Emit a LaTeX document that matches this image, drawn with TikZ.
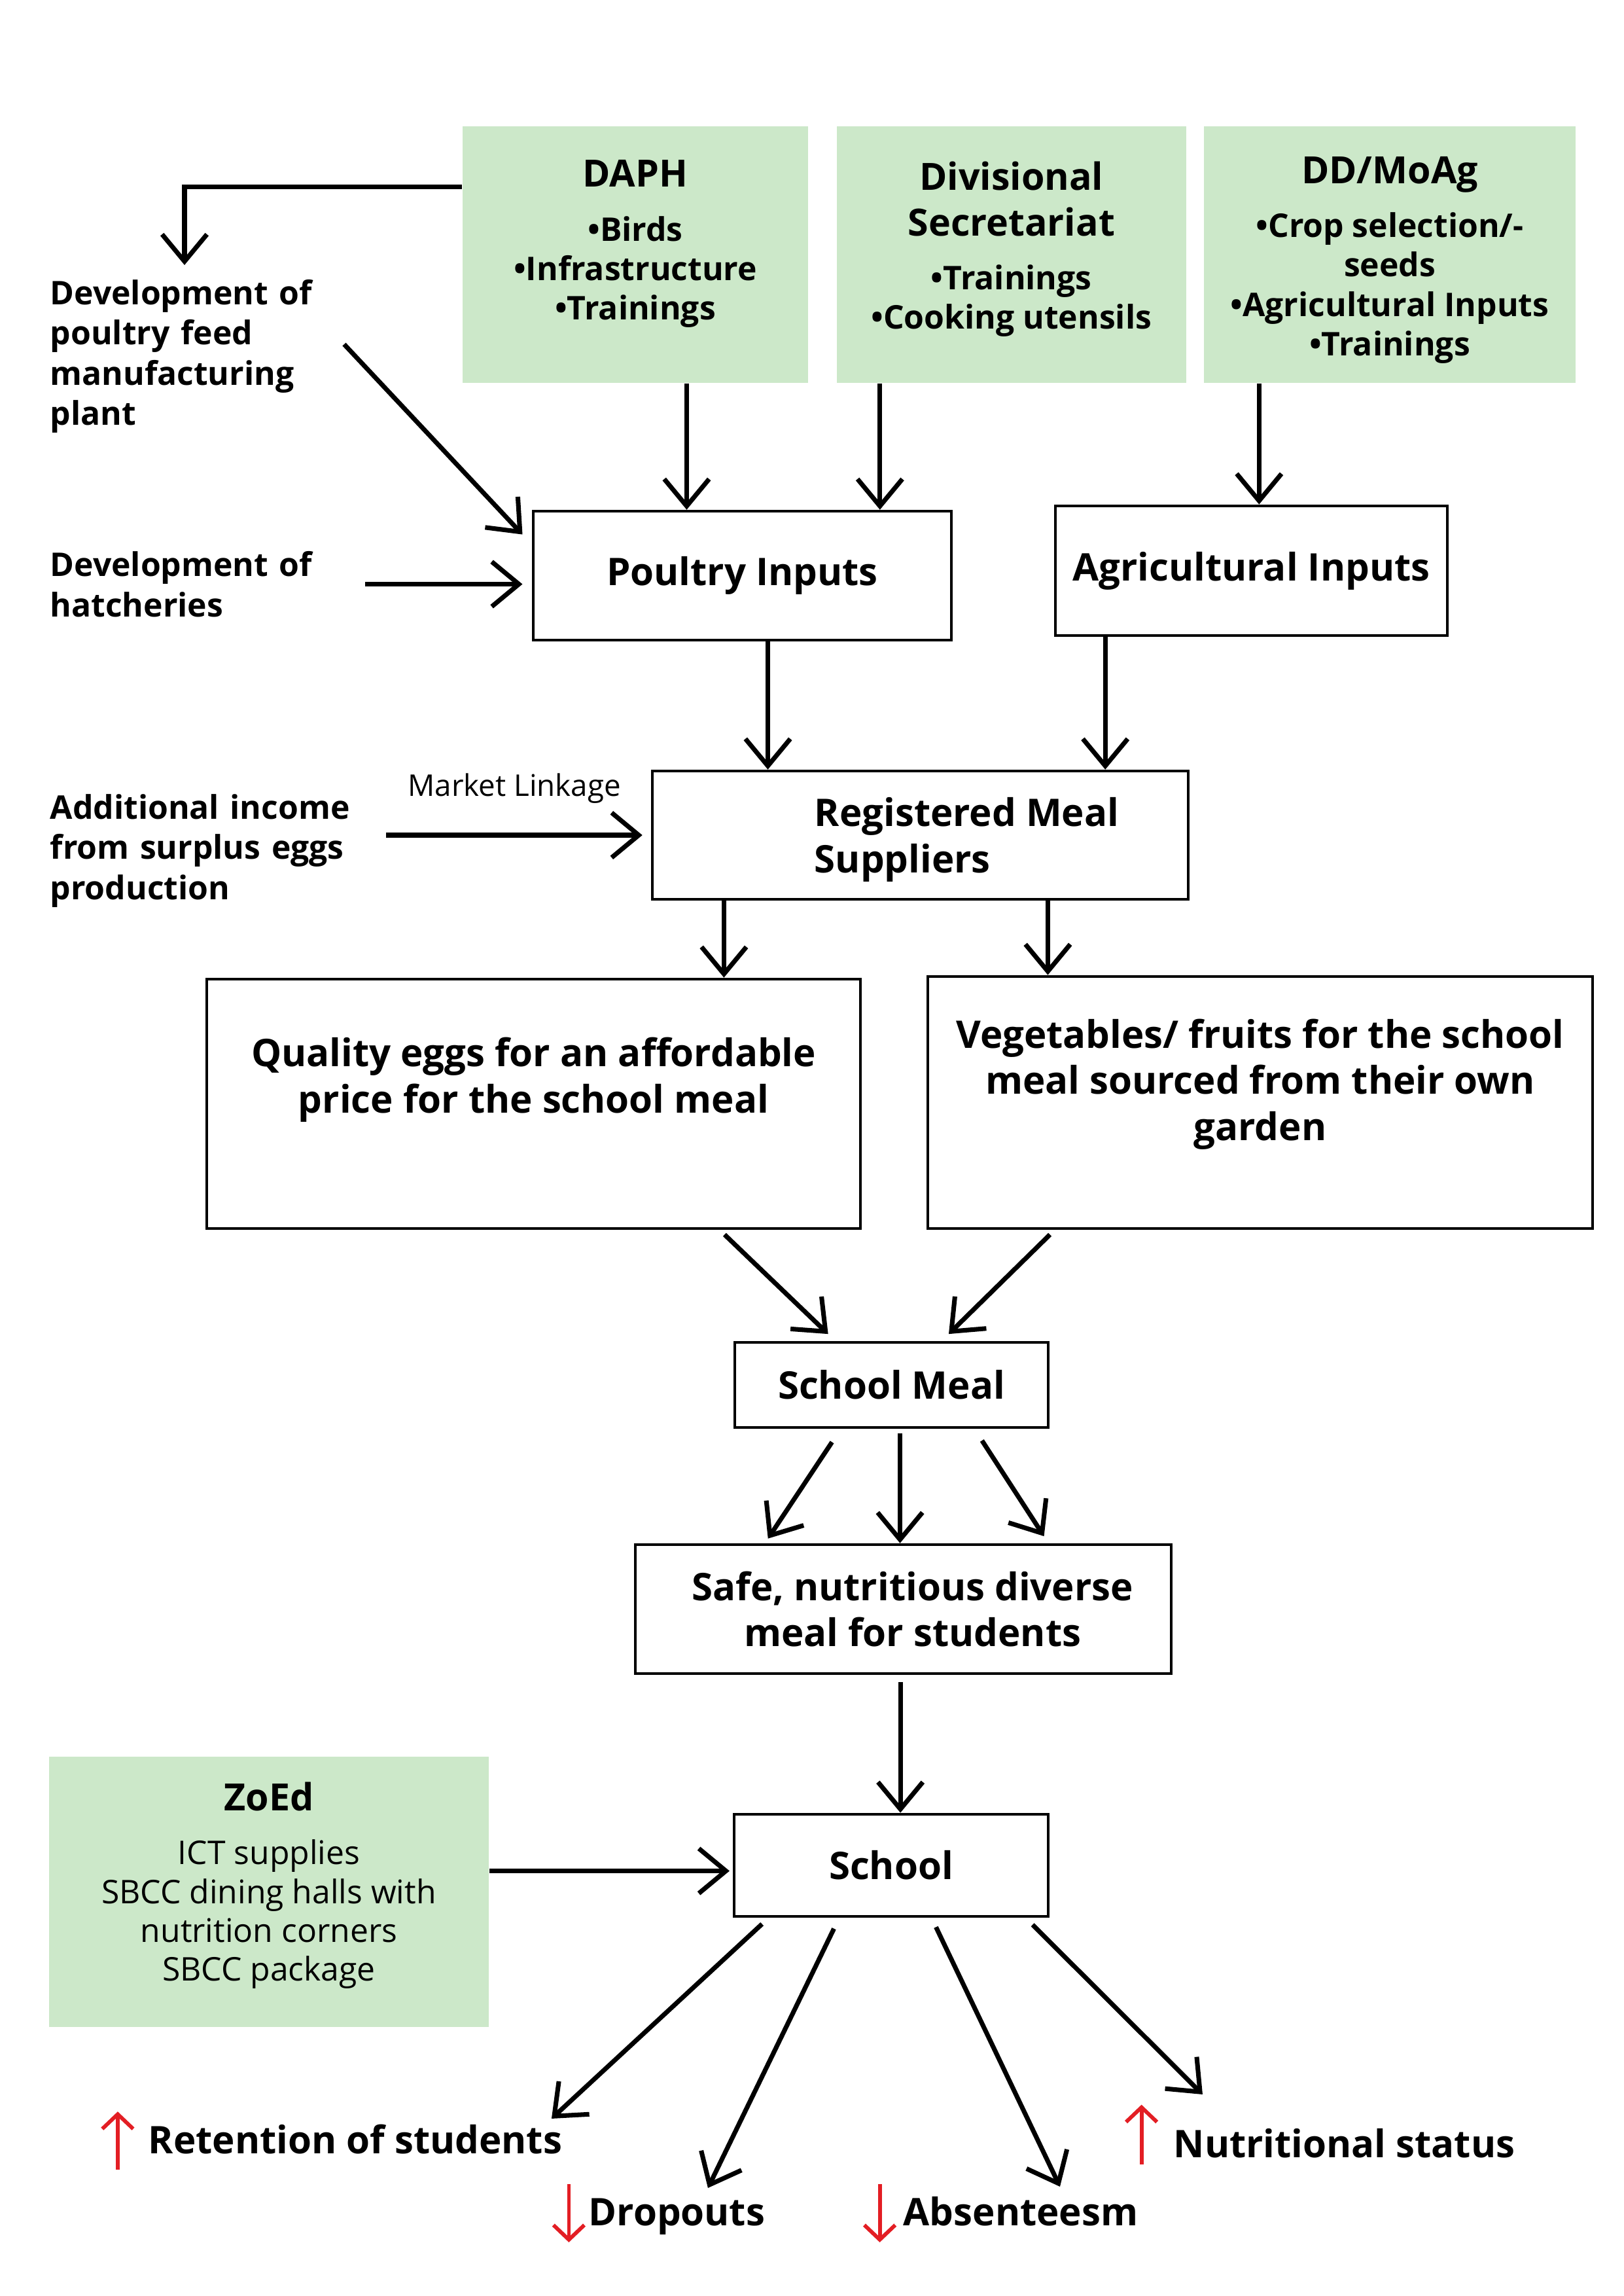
\documentclass[tikz,border=0pt]{standalone}
\usepackage{fontspec}
\setmainfont{Open Sans}
\usetikzlibrary{positioning,arrows.meta,calc}

\definecolor{srcgreen}{RGB}{204,232,201}
\definecolor{trendred}{RGB}{227,30,36}
\newcommand{\srchead}[1]{{\fontsize{13.8}{16.5}\selectfont #1}}

\begin{document}
\begin{tikzpicture}[
    box/.style={rectangle, draw, line width=1.1pt, align=center, font=\bfseries\fontsize{14}{17}\selectfont},
    boxtext/.style={inner sep=0pt, align=center, font=\bfseries\fontsize{14}{17}\selectfont},
    src/.style={rectangle, fill=srcgreen, minimum height=3.32cm},
    srctext/.style={inner sep=0pt, align=center, font=\bfseries\fontsize{12}{14.5}\selectfont},
    side/.style={inner sep=0pt, anchor=west, align=left, text width=4cm, font=\bfseries\fontsize{12}{14.8}\selectfont},
    result/.style={inner sep=0pt, anchor=base west, font=\bfseries\fontsize{14}{16}\selectfont},
    arrow/.style={-{Straight Barb[length=3.5mm, width=5.8mm]}, line width=1.7pt},
    trend/.style={-{Straight Barb[length=1.9mm, width=4mm]}, line width=1.4pt, trendred},
]
\useasboundingbox (0,0) rectangle (21,29.693);

% Source boxes (green)
\node[src, minimum width=4.47cm] (daph) at (8.219,26.4) {};
\node[src, minimum width=4.52cm, right=0.356cm of daph] (div) {};
\node[src, minimum width=4.8cm, right=0.22cm of div] (dd) {};

\node[srctext, below=0.44cm of daph.north] (daphtext) {\srchead{DAPH}\\[5.4pt] •Birds\\ •Infrastructure\\ •Trainings};
\node[srctext, below=0.46cm of div.north] (divtext) {\srchead{Divisional}\\[2.2pt] \srchead{Secretariat}\\[5.4pt] •Trainings\\ •Cooking utensils};
\node[srctext, below=0.39cm of dd.north] (ddtext) {\srchead{DD/MoAg}\\[5.4pt] •Crop selection/-\\ seeds\\ •Agricultural Inputs\\ •Trainings};

% Side inputs
\node[side] (feed) at (0.643,25.084) {Development of\\ poultry feed\\ manufacturing\\ plant};
\node[side] (hatch) at (0.643,22.138) {Development of\\ hatcheries};
\node[side] (income) at (0.643,18.692) {Additional income\\ from surplus eggs\\ production};

% Inputs
\node[box, minimum width=5.41cm, minimum height=1.667cm] (poultry) at (9.603,22.248) {Poultry Inputs};
\node[box, minimum width=5.07cm, minimum height=1.676cm] (agri) at (16.188,22.312) {Agricultural Inputs};

% Suppliers
\node[box, minimum width=6.932cm, minimum height=1.659cm] (reg) at (11.905,18.892) {};
\node[boxtext, align=left, right=2.11cm of reg.west, yshift=-0.06cm] (regtext) {Registered Meal\\ Suppliers};

% Products
\node[box, minimum width=8.456cm, minimum height=3.225cm] (eggs) at (6.903,15.418) {};
\node[boxtext, below=0.77cm of eggs.north] (eggstext) {Quality eggs for an affordable\\ price for the school meal};
\node[box, minimum width=8.6cm, minimum height=3.259cm] (veg) at (16.302,15.435) {};
\node[boxtext, below=0.56cm of veg.north] (vegtext) {Vegetables/ fruits for the school\\ meal sourced from their own\\ garden};

% Meal and school
\node[box, minimum width=4.054cm, minimum height=1.1cm] (meal) at (11.533,11.782) {School Meal};
\node[box, minimum width=6.932cm, minimum height=1.667cm] (safe) at (11.685,8.883) {};
\node[boxtext, xshift=0.12cm] (safetext) at (safe) {Safe, nutritious diverse\\ meal for students};
\node[box, minimum width=4.063cm, minimum height=1.32cm] (school) at (11.528,5.57) {School};

% ZoEd
\node[src, minimum width=5.688cm, minimum height=3.496cm] (zoed) at (3.479,5.227) {};
\node[srctext, font=\fontsize{12}{14.3}\selectfont, below=0.33cm of zoed.north] (zoedtext) {\srchead{\bfseries ZoEd}\\[5.5pt] ICT supplies\\ SBCC dining halls with\\ nutrition corners\\ SBCC package};

% Outcomes
\node[result] (ret) at (1.913,1.845) {Retention of students};
\node[result] (drop) at (7.609,0.914) {Dropouts};
\node[result] (abs) at (11.681,0.914) {Absenteesm};
\node[result] (nut) at (15.177,1.794) {Nutritional status};

\draw[trend] ([xshift=-0.39cm,yshift=-0.21cm]ret.base west) -- ++(0,0.75cm);
\draw[trend] ([xshift=-0.25cm,yshift=0.53cm]drop.base west) -- ++(0,-0.75cm);
\draw[trend] ([xshift=-0.3cm,yshift=0.53cm]abs.base west) -- ++(0,-0.75cm);
\draw[trend] ([xshift=-0.41cm,yshift=-0.09cm]nut.base west) -- ++(0,0.77cm);

% Free ends
\coordinate (feedtop) at (2.387,26.265);
\coordinate (feedout) at (4.452,25.24);
\coordinate (retin) at (7.135,2.294);
\coordinate (dropin) at (9.158,1.397);
\coordinate (absin) at (13.712,1.414);
\coordinate (nutin) at (15.557,2.607);

% Arrows
\draw[arrow] ([yshift=0.88cm]daph.west) -| (feedtop);
\draw[arrow] (feedout) -- ([xshift=-0.12cm,yshift=-0.32cm]poultry.north west);
\draw[arrow] ([xshift=0.07cm]hatch.east) -- ([xshift=-0.12cm]poultry.west |- hatch.east);
\draw[arrow] ([xshift=-0.72cm]poultry.north |- daph.south) -- ([xshift=-0.72cm]poultry.north);
\draw[arrow] ([xshift=1.78cm]poultry.north |- div.south) -- ([xshift=1.78cm]poultry.north);
\draw[arrow] ([xshift=0.1cm]agri.north |- dd.south) -- ([xshift=0.1cm]agri.north);

\draw[arrow] ([xshift=0.33cm]poultry.south) -- ([xshift=0.33cm]poultry.south |- reg.north);
\draw[arrow] ([xshift=-1.89cm]agri.south) -- ([xshift=-1.89cm]agri.south |- reg.north);
\draw[arrow] ([xshift=0.34cm]income.east |- reg.west) -- node[above=0.38cm, inner sep=0pt, font=\fontsize{11}{13}\selectfont] (mlink) {Market Linkage} ([xshift=-0.11cm]reg.west);

\draw[arrow] ([xshift=-2.54cm]reg.south) -- ([xshift=-2.54cm]reg.south |- eggs.north);
\draw[arrow] ([xshift=1.65cm]reg.south) -- ([xshift=1.65cm]reg.south |- veg.north);

\draw[arrow] ([xshift=2.47cm,yshift=-0.06cm]eggs.south) -- ([xshift=-0.82cm,yshift=0.09cm]meal.north);
\draw[arrow] ([xshift=-2.72cm,yshift=-0.06cm]veg.south) -- ([xshift=0.74cm,yshift=0.09cm]meal.north);

\draw[arrow] ([xshift=-0.77cm,yshift=-0.17cm]meal.south) -- ([xshift=-1.75cm,yshift=0.06cm]safe.north);
\draw[arrow] ([xshift=0.11cm,yshift=-0.06cm]meal.south) -- ([xshift=0.11cm]meal.south |- safe.north);
\draw[arrow] ([xshift=1.17cm,yshift=-0.15cm]meal.south) -- ([xshift=1.82cm,yshift=0.09cm]safe.north);

\draw[arrow] ([xshift=0.12cm,yshift=-0.09cm]school.north |- safe.south) -- ([xshift=0.12cm]school.north);
\draw[arrow] ([yshift=0.27cm]zoed.east) -- ([xshift=-0.04cm,yshift=0.27cm]zoed.east -| school.west);

\draw[arrow] ([xshift=-1.67cm,yshift=-0.08cm]school.south) -- (retin);
\draw[arrow] ([xshift=-0.74cm,yshift=-0.14cm]school.south) -- (dropin);
\draw[arrow] ([xshift=0.58cm,yshift=-0.12cm]school.south) -- (absin);
\draw[arrow] ([xshift=1.83cm,yshift=-0.09cm]school.south) -- (nutin);

\end{tikzpicture}
\end{document}
